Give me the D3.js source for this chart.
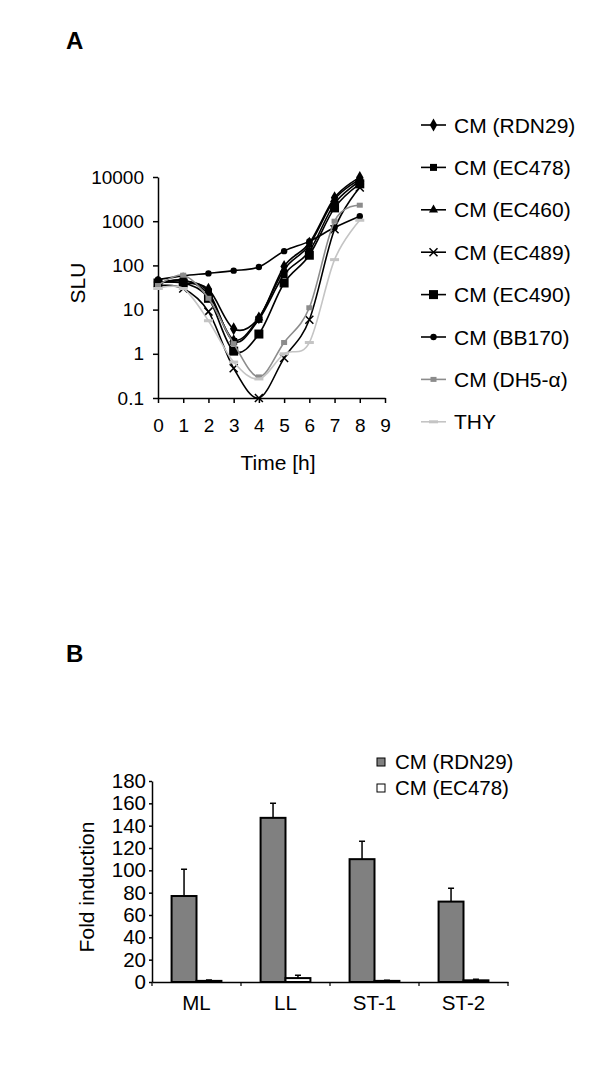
<!DOCTYPE html>
<html>
<head>
<meta charset="utf-8">
<script src="https://cdn.jsdelivr.net/npm/d3@7"></script>
<style>
  body { margin: 0; background: #fff; }
  svg { display: block; font-family: "Liberation Sans", Arial, sans-serif; }
</style>
</head>
<body>
<div id="chart"></div>
<script>
// DATA ______________________________________________________________
const HOURS = [0, 1, 2, 3, 4, 5, 6, 7, 8];
const SERIES_NAMES = ['CM (RDN29)', 'CM (EC478)', 'CM (EC460)', 'CM (EC489)', 'CM (EC490)', 'CM (BB170)', 'CM (DH5-α)', 'THY'];
const RDN29 = [42, 40, 29, 3.7, 6.5, 95, 320, 3400, 9800];
const EC478 = [40, 45, 25, 1.9, 6, 62, 210, 2500, 8000];
const EC460 = [38, 46, 22, 2.1, 6.5, 80, 290, 3100, 8800];
const EC489 = [35, 30, 9, 0.47, 0.1, 0.8, 5.9, 660, 5800];
const EC490 = [40, 40, 18, 1.15, 2.8, 40, 170, 2000, 7000];
const BB170 = [48, 58, 66, 76, 92, 210, 350, 720, 1300];
const DH5A = [35, 60, 18, 1.7, 0.3, 1.8, 11, 1000, 2300];
const THY = [30, 30, 5.6, 0.65, 0.27, 1.0, 1.8, 135, 1050];
const LOG_TICKS = [0.1, 1, 10, 100, 1000, 10000];
const TIME_TICKS = [0, 1, 2, 3, 4, 5, 6, 7, 8, 9];

const SITES = ['ML', 'LL', 'ST-1', 'ST-2'];
const BAR_SERIES = ['CM (RDN29)', 'CM (EC478)'];
const FOLD_RDN29 = [77, 147, 110, 72];
const ERR_RDN29 = [24, 13, 16, 12];
const FOLD_EC478 = [1, 3.5, 1, 1.5];
const ERR_EC478 = [0.7, 2.5, 0.6, 1];
const FOLD_TICKS = [0, 20, 40, 60, 80, 100, 120, 140, 160, 180];
//____________________________________________________________________

const W = 600, H = 1091;
const FONT_TICK = 19;
const FONT_LABEL = 21;

const svg = d3.select('#chart').append('svg')
    .attr('width', W).attr('height', H);

// panel letters
svg.append('text').attr('x', 66).attr('y', 49)
    .attr('font-size', 24).attr('font-weight', 'bold').text('A');
svg.append('text').attr('x', 66).attr('y', 662)
    .attr('font-size', 24).attr('font-weight', 'bold').text('B');

// PANEL A: log line chart ___________________________________________
const lineStyles = [
    {data: RDN29, color: '#000', marker: 'diamond'},
    {data: EC478, color: '#000', marker: 'square-s'},
    {data: EC460, color: '#000', marker: 'triangle'},
    {data: EC489, color: '#000', marker: 'x'},
    {data: EC490, color: '#000', marker: 'square-l'},
    {data: BB170, color: '#000', marker: 'circle'},
    {data: DH5A, color: '#8c8c8c', marker: 'square-g'},
    {data: THY, color: '#c4c4c4', marker: 'dash'}
];

const xA = d3.scaleLinear().domain([0, 9]).range([158, 385]);
const yA = d3.scaleLog().domain([0.1, 10000]).range([398, 177]);

const gA = svg.append('g');

gA.append('clipPath').attr('id', 'clipA')
    .append('rect').attr('x', 150).attr('y', 170).attr('width', 250).attr('height', 229);

// y axis
const axisYA = gA.append('g').attr('transform', 'translate(158,0)')
    .call(d3.axisLeft(yA).tickValues(LOG_TICKS).tickFormat(d3.format('~g')).tickSize(5).tickSizeOuter(0).tickPadding(9));
// x axis
const axisXA = gA.append('g').attr('transform', 'translate(0,398)')
    .call(d3.axisBottom(xA).tickValues(TIME_TICKS).tickSize(5).tickSizeOuter(0).tickPadding(17));
[axisYA, axisXA].forEach(function(a) {
    a.selectAll('text').attr('font-size', FONT_TICK).attr('fill', '#000').attr('font-family', null);
    a.selectAll('path, line').attr('stroke', '#000').attr('stroke-width', 1.5);
});
axisXA.selectAll('text').attr('dy', '0.62em');

gA.append('text').attr('transform', 'translate(85,283) rotate(-90)')
    .attr('text-anchor', 'middle').attr('font-size', FONT_LABEL).text('SLU');
gA.append('text').attr('x', 278).attr('y', 470)
    .attr('text-anchor', 'middle').attr('font-size', FONT_LABEL).text('Time [h]');

// marker drawing
function drawMarker(g, type, x, y, color) {
    if (type === 'diamond') {
        g.append('path').attr('d', d3.symbol(d3.symbolDiamond, 48)()).attr('transform', `translate(${x},${y})`).attr('fill', color);
    } else if (type === 'square-s') {
        g.append('rect').attr('x', x - 3.5).attr('y', y - 3.5).attr('width', 7).attr('height', 7).attr('fill', color);
    } else if (type === 'square-l') {
        g.append('rect').attr('x', x - 4.5).attr('y', y - 4.5).attr('width', 9).attr('height', 9).attr('fill', color);
    } else if (type === 'square-g') {
        g.append('rect').attr('x', x - 3).attr('y', y - 2.5).attr('width', 6).attr('height', 5).attr('fill', color);
    } else if (type === 'triangle') {
        g.append('path').attr('d', d3.symbol(d3.symbolTriangle, 36)()).attr('transform', `translate(${x},${y})`).attr('fill', color);
    } else if (type === 'circle') {
        g.append('circle').attr('cx', x).attr('cy', y).attr('r', 3.2).attr('fill', color);
    } else if (type === 'x') {
        g.append('path').attr('d', `M${x - 4},${y - 4}L${x + 4},${y + 4}M${x - 4},${y + 4}L${x + 4},${y - 4}`)
            .attr('stroke', color).attr('stroke-width', 1.5);
    } else if (type === 'dash') {
        g.append('rect').attr('x', x - 4.5).attr('y', y - 1.5).attr('width', 9).attr('height', 3).attr('fill', color);
    }
}

const line = d3.line()
    .x(function(d, i) { return xA(HOURS[i]); })
    .y(function(d) { return yA(d); })
    .curve(d3.curveCatmullRom.alpha(0));

lineStyles.forEach(function(s) {
    const g = gA.append('g');
    g.append('path').datum(s.data).attr('d', line)
        .attr('fill', 'none').attr('stroke', s.color).attr('stroke-width', 1.6)
        .attr('clip-path', 'url(#clipA)');
    s.data.forEach(function(v, i) { drawMarker(g, s.marker, xA(HOURS[i]), yA(v), s.color); });
});

// legend A
const legA = gA.append('g');
SERIES_NAMES.forEach(function(name, i) {
    const y = 125 + i * 42.4;
    const s = lineStyles[i];
    legA.append('line').attr('x1', 421).attr('x2', 446).attr('y1', y).attr('y2', y)
        .attr('stroke', s.color).attr('stroke-width', 1.6);
    drawMarker(legA, s.marker, 433.5, y, s.color);
    legA.append('text').attr('x', 454).attr('y', y).attr('dy', '0.36em')
        .attr('font-size', FONT_LABEL).text(name);
});
//____________________________________________________________________

// PANEL B: bar chart ________________________________________________
const x0 = d3.scaleBand().domain(SITES).range([152, 508]).paddingInner(0.44).paddingOuter(0.22);
const x1 = d3.scaleBand().domain(BAR_SERIES).range([0, x0.bandwidth()]);
const yB = d3.scaleLinear().domain([0, 180]).range([982, 781]);

const gB = svg.append('g');
const barData = SITES.map(function(site, i) {
    return [
        {series: BAR_SERIES[0], site: site, value: FOLD_RDN29[i], err: ERR_RDN29[i], fill: '#808080'},
        {series: BAR_SERIES[1], site: site, value: FOLD_EC478[i], err: ERR_EC478[i], fill: '#fff'}
    ];
}).flat();

// error bars (drawn behind bars)
gB.selectAll('.err').data(barData).enter().append('path')
    .attr('class', 'err')
    .attr('d', function(d) {
        const cx = x0(d.site) + x1(d.series) + x1.bandwidth() / 2;
        const top = yB(d.value + d.err);
        return `M${cx},${yB(d.value)}V${top}M${cx - 3},${top}H${cx + 3}`;
    })
    .attr('stroke', '#000').attr('stroke-width', 1.5).attr('fill', 'none');

gB.selectAll('.bar').data(barData).enter().append('rect')
    .attr('class', 'bar')
    .attr('x', function(d) { return x0(d.site) + x1(d.series); })
    .attr('y', function(d) { return yB(d.value); })
    .attr('width', x1.bandwidth())
    .attr('height', function(d) { return yB(0) - yB(d.value); })
    .attr('fill', function(d) { return d.fill; })
    .attr('stroke', '#000').attr('stroke-width', 2);

const axisYB = gB.append('g').attr('transform', 'translate(152,0)')
    .call(d3.axisLeft(yB).tickValues(FOLD_TICKS).tickSize(3).tickSizeOuter(0).tickPadding(3));
const axisXB = gB.append('g').attr('transform', 'translate(0,982)')
    .call(d3.axisBottom(x0).tickSize(0).tickSizeOuter(0).tickPadding(16));
[axisYB, axisXB].forEach(function(a) {
    a.selectAll('text').attr('font-size', FONT_LABEL - 0.5).attr('fill', '#000').attr('font-family', null);
    a.selectAll('path, line').attr('stroke', '#000').attr('stroke-width', 1.5);
});
axisXB.selectAll('text').attr('dy', '0.6em');

// category separator ticks on the band boundaries
const [b0, b1] = x0.range();
d3.range(SITES.length + 1).forEach(function(i) {
    const x = b0 + i * (b1 - b0) / SITES.length;
    gB.append('line').attr('x1', x).attr('x2', x)
        .attr('y1', 982).attr('y2', 986).attr('stroke', '#000').attr('stroke-width', 1.2);
});

gB.append('text').attr('transform', 'translate(94,887) rotate(-90)')
    .attr('text-anchor', 'middle').attr('font-size', FONT_LABEL).text('Fold induction');

// legend B
BAR_SERIES.forEach(function(name, i) {
    const y = 762 + i * 26;
    gB.append('rect').attr('x', 377).attr('y', y - 4).attr('width', 8).attr('height', 8)
        .attr('fill', i === 0 ? '#808080' : '#fff').attr('stroke', '#000').attr('stroke-width', 1);
    gB.append('text').attr('x', 395).attr('y', y).attr('dy', '0.36em')
        .attr('font-size', FONT_LABEL - 0.5).text(name);
});
//____________________________________________________________________
</script>
</body>
</html>
